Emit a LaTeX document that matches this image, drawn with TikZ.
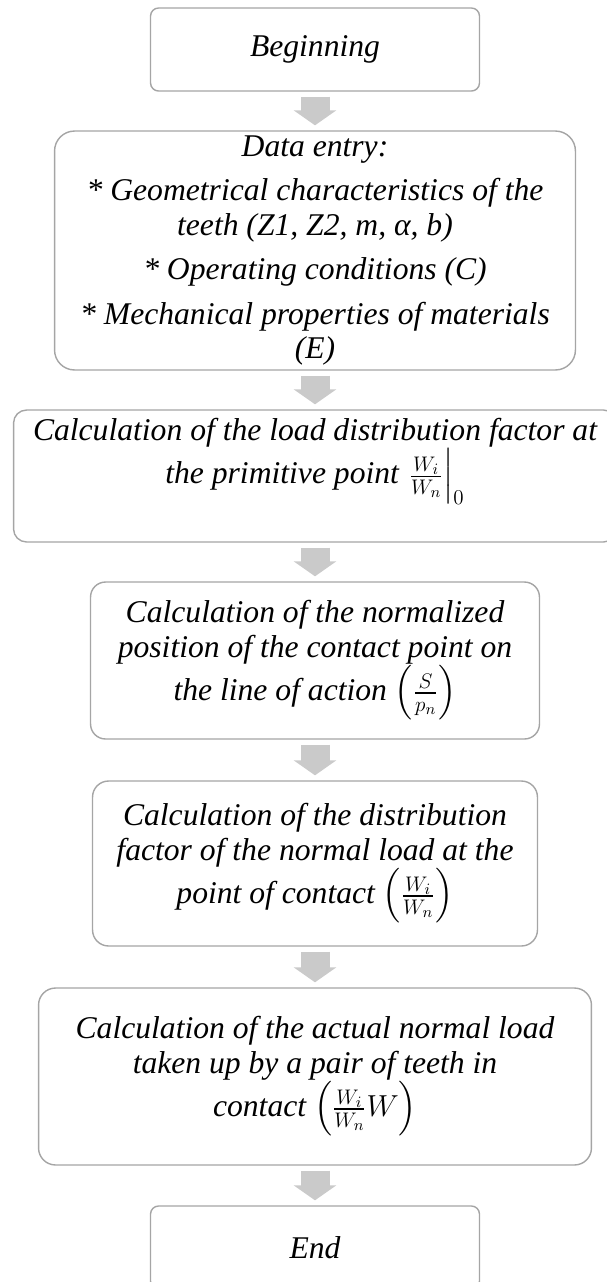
\documentclass[tikz,border=0pt]{standalone}
\usepackage{amsmath}
\usepackage{fontspec}
\setmainfont{Liberation Serif}
\usetikzlibrary{arrows.meta}
\definecolor{boxline}{RGB}{165,165,165}
\definecolor{arrowfill}{RGB}{202,202,202}
\tikzset{stepbox/.style={draw=boxline,line width=0.8pt,fill=white,align=center,inner xsep=2pt,inner ysep=0pt,
    font=\itshape\fontsize{18}{19.5}\selectfont},
  flowarrow/.style={arrowfill,line width=0.58cm,shorten <=0.1cm,shorten >=0.1cm,arrows={-Triangle[width=0.84cm,length=0.3cm]}}}
\newcommand{\flowstep}[6]{\node[stepbox,minimum width=#3cm,minimum height=#4cm,rounded corners=#5cm](#1) at (#2) {#6};}

\begin{document}
\begin{tikzpicture}[x=0.02cm,y=-0.02cm]
	\useasboundingbox (0,0) rectangle (607,1282);
	\flowstep{begin}{315,49.5}{6.58}{1.66}{0.16}{Beginning}
	\flowstep{data}{315,250.5}{10.42}{4.78}{0.4}{Data entry:\\[6pt]
		* Geometrical characteristics of the\\ teeth (Z1, Z2, m, α, b)\\[6pt]
		* Operating conditions (C)\\[6pt]
		* Mechanical properties of materials\\ (E)}
	\flowstep{primitive}{315,476}{12.06}{2.64}{0.26}{Calculation of the load distribution factor at\\
		the primitive point $\left.\frac{W_i}{W_n}\right|_0$\rule[-1cm]{0pt}{0pt}}
	\flowstep{position}{315,660.5}{8.98}{3.14}{0.3}{Calculation of the normalized\\
		position of the contact point on\\ the line of action $\left(\frac{S}{p_n}\right)$}
	\flowstep{factor}{315,863.5}{8.9}{3.3}{0.32}{Calculation of the distribution\\
		factor of the normal load at the\\ point of contact $\left(\frac{W_i}{W_n}\right)$}
	\flowstep{actual}{315,1076.5}{11.06}{3.54}{0.34}{Calculation of the actual normal load\\
		taken up by a pair of teeth in\\ contact $\left(\frac{W_i}{W_n}W\right)$}
	\flowstep{end}{315,1247.5}{6.58}{1.66}{0.16}{End}

	\draw[flowarrow] (begin) -- (data);
	\draw[flowarrow] (data) -- (primitive);
	\draw[flowarrow] (primitive) -- (position);
	\draw[flowarrow] (position) -- (factor);
	\draw[flowarrow] (factor) -- (actual);
	\draw[flowarrow] (actual) -- (end);
\end{tikzpicture}
\end{document}
